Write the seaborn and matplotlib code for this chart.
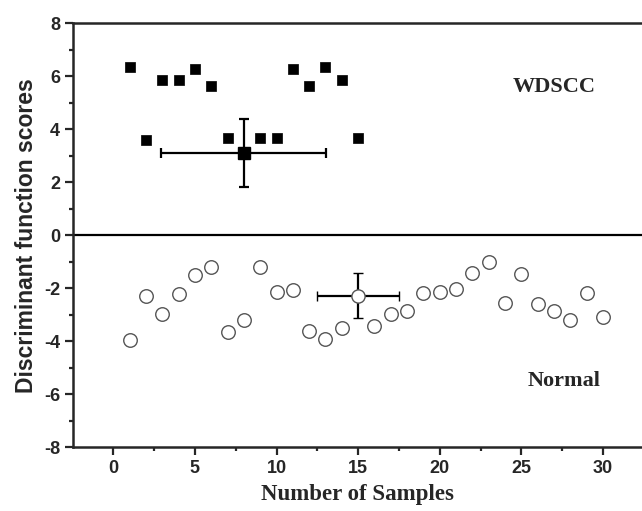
import numpy as np
import matplotlib
matplotlib.use("Agg")
import matplotlib.pyplot as plt
import seaborn as sns
import pandas as pd
from matplotlib.ticker import MultipleLocator

# WDSCC samples (sample 8 is drawn as the mean with error bars)
wdscc_x = [1, 2, 3, 4, 5, 6, 7, 9, 10, 11, 12, 13, 14, 15]
wdscc_y = [6.36, 3.58, 5.88, 5.88, 6.29, 5.65, 3.68, 3.68, 3.68, 6.29, 5.65, 6.36, 5.88, 3.68]
wdscc_mean = (8, 3.1)
wdscc_err = (5.05, 1.28)   # x err, y err

# Normal samples (sample 15 is the mean with error bars)
normal_x = [1, 2, 3, 4, 5, 6, 7, 8, 9, 10, 11, 12, 13, 14,
            16, 17, 18, 19, 20, 21, 22, 23, 24, 25, 26, 27, 28, 29, 30]
normal_y = [-3.95, -2.29, -2.98, -2.22, -1.49, -1.20, -3.64, -3.22, -1.20, -2.15,
            -2.07, -3.60, -3.93, -3.50, -3.44, -2.98, -2.88, -2.19, -2.15, -2.05,
            -1.44, -1.02, -2.57, -1.47, -2.61, -2.87, -3.20, -2.18, -3.09]
normal_mean = (15, -2.29)
normal_err = (2.53, 0.85)

sns.set_style("ticks")
plt.rcParams['font.family'] = ['Liberation Sans Narrow', 'Liberation Sans', 'DejaVu Sans']
plt.rcParams['axes.unicode_minus'] = False

fig = plt.figure(figsize=(6.42, 5.11), dpi=100)
ax = fig.add_axes([0.1142, 0.1252, 0.886, 0.829])

df_w = pd.DataFrame({"x": wdscc_x, "y": wdscc_y})
df_n = pd.DataFrame({"x": normal_x, "y": normal_y})

sns.scatterplot(data=df_w, x="x", y="y", marker="s", s=62, color="black",
                edgecolor="black", linewidth=0.5, ax=ax, zorder=3)
sns.scatterplot(data=df_n, x="x", y="y", marker="o", s=95, facecolor="white",
                edgecolor="#555555", linewidth=1.0, ax=ax, zorder=3)

# means with error bars
ax.errorbar(wdscc_mean[0], wdscc_mean[1], xerr=wdscc_err[0], yerr=wdscc_err[1],
            fmt="s", ms=8, color="black", ecolor="black", elinewidth=1.6,
            capsize=3.5, capthick=1.6, zorder=4)
ax.errorbar(normal_mean[0], normal_mean[1], xerr=normal_err[0], yerr=normal_err[1],
            fmt="o", ms=9.5, mfc="white", mec="#555555", mew=1.0, color="black",
            ecolor="black", elinewidth=1.6, capsize=3.5, capthick=1.6, zorder=4)

ax.axhline(0, color="black", linewidth=1.6, zorder=2)

ax.set_xlim(-2.45, 32.4)
ax.set_ylim(-8, 8)
ax.xaxis.set_major_locator(MultipleLocator(5))
ax.xaxis.set_minor_locator(MultipleLocator(2.5))
ax.yaxis.set_major_locator(MultipleLocator(2))
ax.yaxis.set_minor_locator(MultipleLocator(1))
ax.tick_params(which="major", direction="out", length=6, width=1.6, labelsize=13)
ax.tick_params(which="minor", direction="out", length=3, width=1.6)
for lab in ax.get_xticklabels() + ax.get_yticklabels():
    lab.set_fontweight("bold")

for side in ["left", "bottom", "top"]:
    ax.spines[side].set_linewidth(1.8)
ax.spines["right"].set_visible(False)

ax.set_xlabel("Number of Samples", family=["Liberation Serif"], fontweight="bold",
              fontsize=16.5, labelpad=5)
ax.set_ylabel("Discriminant function scores", family=["Liberation Sans", "DejaVu Sans"],
              fontweight="bold", fontsize=16.5, labelpad=4)

ax.text(27.0, 5.6, "WDSCC", family=["Liberation Serif"], fontweight="bold",
        fontsize=16, ha="center", va="center")
ax.text(27.6, -5.5, "Normal", family=["Liberation Serif"], fontweight="bold",
        fontsize=16, ha="center", va="center")

fig.savefig("out.png", dpi=100)
